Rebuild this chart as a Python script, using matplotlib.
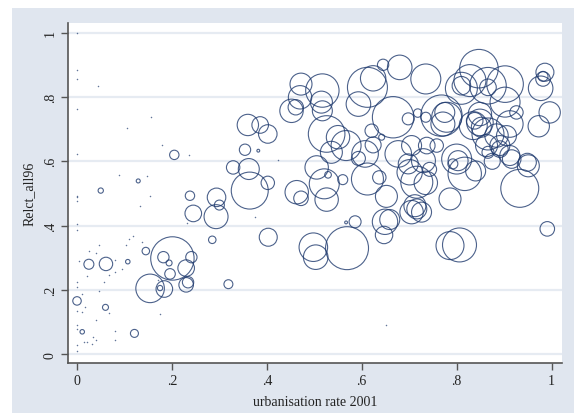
import numpy as np
import matplotlib.pyplot as plt
from matplotlib.patches import Rectangle

# urbanisation rate 2001 (x), Relct_all96 (y), population weight (marker area)
urb = [0.0, 0.0, 0.0, 0.044, 0.0, 0.156, 0.105, 0.180, 0.0, 0.236, 0.089, 0.147,
       0.0, 0.154, 0.0, 0.0, 0.132, 0.231, 0.0, 0.0, 0.026, 0.046, 0.041, 0.081,
       0.004, 0.067, 0.057, 0.080, 0.095, 0.022, 0.046, 0.0, 0.0, 0.010, 0.017,
       0.0, 0.011, 0.067, 0.041, 0.0, 0.0, 0.080, 0.080, 0.034, 0.039, 0.031,
       0.020, 0.015, 0.0, 0.0, 0.119, 0.110, 0.103, 0.136, 0.175, 0.651, 0.376,
       0.423, 0.171,
       0.205, 0.129, 0.050, 0.238, 0.294, 0.300, 0.245, 0.293, 0.285, 0.145,
       0.201, 0.182, 0.194, 0.241, 0.230, 0.196, 0.234, 0.230, 0.154, 0.184,
       0.175, 0.319, 0.025, 0.061, 0.107, 0.000, 0.060, 0.011, 0.121,
       0.472, 0.517, 0.470, 0.515, 0.461, 0.452, 0.517, 0.360, 0.386, 0.402,
       0.354, 0.382, 0.526, 0.550, 0.536, 0.329, 0.362, 0.505, 0.364, 0.402,
       0.463, 0.472, 0.521, 0.529, 0.526, 0.403, 0.498, 0.503, 0.569,
       0.645, 0.680, 0.624, 0.735, 0.612, 0.593, 0.666, 0.698, 0.718, 0.735,
       0.621, 0.642, 0.567, 0.607, 0.593, 0.624, 0.677, 0.705, 0.768, 0.779,
       0.775, 0.771, 0.737, 0.758, 0.800, 0.612, 0.637, 0.560, 0.652, 0.716,
       0.735, 0.701, 0.649, 0.659, 0.647, 0.705, 0.712, 0.716, 0.726, 0.786,
       0.586, 0.567, 0.786, 0.806, 0.698, 0.730, 0.743, 0.792,
       0.847, 0.828, 0.866, 0.902, 0.986, 0.982, 0.977, 0.982, 0.996, 0.973,
       0.810, 0.810, 0.866, 0.902, 0.926, 0.849, 0.866, 0.884, 0.852, 0.838,
       0.916, 0.949, 0.803, 0.866, 0.891, 0.912, 0.849, 0.835, 0.863, 0.891,
       0.905, 0.912, 0.951, 0.933, 0.991, 0.817, 0.840, 0.875]
relct = [1.0, 0.884, 0.855, 0.835, 0.763, 0.739, 0.705, 0.650, 0.624, 0.620, 0.558, 0.554,
         0.493, 0.493, 0.488, 0.478, 0.462, 0.407, 0.405, 0.387, 0.322, 0.341, 0.314, 0.293,
         0.289, 0.247, 0.226, 0.255, 0.265, 0.243, 0.198, 0.224, 0.208, 0.187, 0.146,
         0.136, 0.131, 0.127, 0.107, 0.091, 0.079, 0.073, 0.044, 0.053, 0.045, 0.032,
         0.039, 0.037, 0.029, 0.011, 0.369, 0.359, 0.341, 0.348, 0.124, 0.092, 0.426,
         0.604, 0.231,
         0.620, 0.539, 0.509, 0.493, 0.488, 0.464, 0.438, 0.428, 0.356, 0.321,
         0.298, 0.302, 0.284, 0.302, 0.268, 0.250, 0.224, 0.216, 0.205, 0.203,
         0.206, 0.218, 0.280, 0.281, 0.288, 0.166, 0.146, 0.070, 0.065,
         0.840, 0.820, 0.799, 0.784, 0.768, 0.757, 0.757, 0.713, 0.713, 0.685,
         0.636, 0.633, 0.685, 0.675, 0.628, 0.581, 0.576, 0.581, 0.509, 0.533,
         0.504, 0.485, 0.530, 0.558, 0.481, 0.364, 0.333, 0.302, 0.330,
         0.900, 0.892, 0.858, 0.856, 0.830, 0.778, 0.737, 0.732, 0.750, 0.737,
         0.695, 0.675, 0.649, 0.623, 0.609, 0.651, 0.623, 0.649, 0.742, 0.737,
         0.752, 0.716, 0.649, 0.649, 0.607, 0.545, 0.550, 0.543, 0.491, 0.535,
         0.533, 0.566, 0.412, 0.419, 0.371, 0.442, 0.462, 0.452, 0.442, 0.483,
         0.412, 0.410, 0.338, 0.340, 0.592, 0.602, 0.575, 0.592,
         0.888, 0.851, 0.835, 0.840, 0.877, 0.856, 0.827, 0.864, 0.752, 0.709,
         0.827, 0.835, 0.830, 0.784, 0.752, 0.721, 0.685, 0.680, 0.706, 0.726,
         0.607, 0.597, 0.602, 0.628, 0.638, 0.716, 0.747, 0.711, 0.649, 0.649,
         0.680, 0.618, 0.586, 0.516, 0.390, 0.561, 0.570, 0.600]
pop = [0] * 59 + [
       22, 4, 7, 22, 86, 25, 69, 144, 14, 14,
       471, 32, 9, 32, 69, 28, 32, 53, 204, 69,
       7, 20, 25, 45, 5, 18, 9, 5, 16,
       121, 279, 137, 121, 59, 137, 100, 114, 69, 86,
       32, 2, 335, 137, 121, 45, 110, 137, 342, 45,
       137, 53, 225, 11, 137, 81, 204, 151, 462,
       32, 151, 161, 225, 400, 151, 428, 36, 18, 25,
       45, 9, 225, 177, 49, 64, 177, 100, 428, 225,
       100, 144, 69, 45, 225, 256, 45, 25, 121, 256,
       137, 161, 161, 100, 76, 137, 121, 100, 100, 121,
       36, 2, 196, 289, 100, 144, 49, 25,
       372, 256, 335, 335, 81, 53, 151, 25, 114, 114,
       256, 86, 69, 225, 45, 177, 256, 137, 100, 69,
       86, 81, 100, 36, 69, 177, 137, 196, 121, 100,
       100, 100, 121, 361, 53, 279, 100, 64]

urb = np.array(urb)
relct = np.array(relct)
pop = np.array(pop, dtype=float)

plt.rcParams['font.family'] = ['Liberation Serif', 'DejaVu Serif']

fig = plt.figure(figsize=(5.74, 4.14), dpi=100)
fig.patch.set_facecolor('white')
fig.add_artist(Rectangle((12 / 574, 0), 1 - 12 / 574, 405 / 414,
                         transform=fig.transFigure, facecolor='#E0E6EF',
                         edgecolor='none', zorder=-10))

ax = fig.add_axes([68 / 574, 50 / 414, 494 / 574, 340 / 414])
ax.set_facecolor('white')

navy = '#1F3A6E'
big = pop > 0
ax.scatter(urb[big], relct[big], s=pop[big] * 2.07, facecolors='none',
           edgecolors=navy, linewidths=0.8, alpha=0.8, zorder=3)
ax.scatter(urb[~big], relct[~big], s=1.2, color=navy, linewidths=0,
           alpha=0.7, zorder=3)

ax.set_xlim(-0.019, 1.022)
ax.set_ylim(-0.027, 1.030)

ticks = [0, 0.2, 0.4, 0.6, 0.8, 1.0]
labels = ['0', '.2', '.4', '.6', '.8', '1']
ax.set_xticks(ticks)
ax.set_xticklabels(labels)
ax.set_yticks(ticks)
ax.set_yticklabels(labels, rotation=90, va='center')

ax.yaxis.grid(True, color='#E6EBF2', linewidth=1.6)
ax.set_axisbelow(True)

for side in ['top', 'right']:
    ax.spines[side].set_visible(False)
for side in ['left', 'bottom']:
    ax.spines[side].set_color('#555555')
    ax.spines[side].set_linewidth(1.2)
ax.tick_params(direction='out', length=5, width=1.0, color='#555555',
               labelsize=10, labelcolor='#222222', pad=3)

ax.set_xlabel('urbanisation rate 2001', fontsize=10, color='#222222', labelpad=6)
ax.set_ylabel('Relct_all96', fontsize=10, color='#222222', labelpad=6)

fig.savefig('out.png', dpi=100)
